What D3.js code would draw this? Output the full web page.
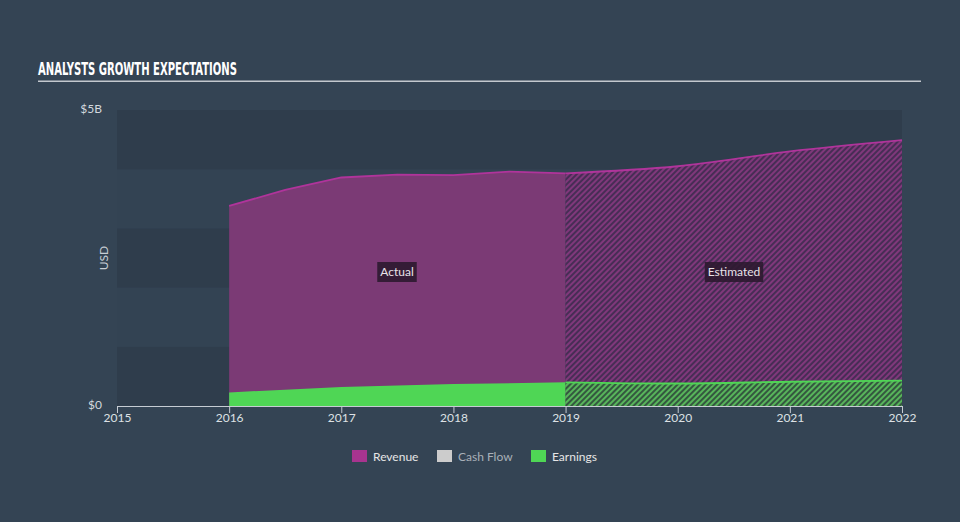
<!DOCTYPE html>
<html><head><meta charset="utf-8">
<script src="https://cdn.jsdelivr.net/npm/d3@7"></script>
<style>
html,body{margin:0;padding:0;background:#344454;}
svg{display:block;font-family:"Lato","Open Sans",sans-serif;}
</style></head>
<body><svg id="c" width="960" height="522"></svg>
<script>
// ---- data ----
const xTicks = [2015, 2016, 2017, 2018, 2019, 2020, 2021, 2022];
const yTickValues = [0, 5];
const yTickLabels = ["$0", "$5B"];
const revenueActualYears = [2016, 2016.5, 2017, 2017.5, 2018, 2018.5, 2019];
const revenueActual = [3.38, 3.65, 3.86, 3.91, 3.90, 3.96, 3.93];
const revenueEstYears = [2019, 2020, 2021, 2022];
const revenueEst = [3.93, 4.05, 4.30, 4.49];
const earningsActualYears = [2016, 2017, 2018, 2019];
const earningsActual = [0.23, 0.32, 0.37, 0.40];
const earningsEstYears = [2019, 2020, 2021, 2022];
const earningsEst = [0.40, 0.38, 0.41, 0.43];
const legendItems = ["Revenue", "Cash Flow", "Earnings"];
const legendColors = ["#a8348f", "#cccccc", "#4fd655"];
const legendTextColors = ["#e6e6e6", "#a9b0b8", "#e6e6e6"];

const svg = d3.select("#c");
const x = d3.scaleLinear().domain([2015, 2022]).range([117, 902]);
const y = d3.scaleLinear().domain([0, 5]).range([406, 110]);

// title
svg.append("text").attr("x", 38).attr("y", 75)
  .attr("fill", "#ffffff").attr("font-family", "'Liberation Sans Narrow','DejaVu Sans Condensed',sans-serif")
  .attr("font-weight", "bold").attr("font-size", 17).attr("textLength", 199).attr("lengthAdjust","spacingAndGlyphs")
  .text("ANALYSTS GROWTH EXPECTATIONS");
svg.append("rect").attr("x", 38).attr("y", 80.5).attr("width", 883).attr("height", 1.5).attr("fill", "#c3c8ce");

// bands
const bandVals = d3.range(0, 5);
svg.append("g").selectAll("rect").data(bandVals).join("rect")
  .attr("x", x(2015)).attr("width", x(2022) - x(2015))
  .attr("y", d => y(d + 1)).attr("height", d => y(d) - y(d + 1))
  .attr("fill", d => d % 2 === 0 ? "#2f3d4c" : "#334353");

// patterns
const defs = svg.append("defs");
function hatch(id, bg, fg) {
  const p = defs.append("pattern").attr("id", id).attr("patternUnits", "userSpaceOnUse")
    .attr("width", 4).attr("height", 4).attr("patternTransform", "rotate(45)");
  p.append("rect").attr("width", 4).attr("height", 4).attr("fill", bg);
  p.append("line").attr("x1", 1).attr("y1", 0).attr("x2", 1).attr("y2", 4)
    .attr("stroke", fg).attr("stroke-width", 1.8);
}
hatch("hRev", "#472d55", "#86397f");
hatch("hEarn", "#34573f", "#5cc05e");

const revA = revenueActualYears.map((t, i) => [t, revenueActual[i]]);
const revE = revenueEstYears.map((t, i) => [t, revenueEst[i]]);
const earnA = earningsActualYears.map((t, i) => [t, earningsActual[i]]);
const earnE = earningsEstYears.map((t, i) => [t, earningsEst[i]]);

const area = c => d3.area().x(d => x(d[0])).y0(y(0)).y1(d => y(d[1])).curve(c);
const line = c => d3.line().x(d => x(d[0])).y(d => y(d[1])).curve(c);

// revenue
svg.append("path").datum(revA).attr("d", area(d3.curveLinear)).attr("fill", "#7b3a75");
svg.append("path").datum(revE).attr("d", area(d3.curveMonotoneX)).attr("fill", "url(#hRev)");
svg.append("path").datum(revA).attr("d", line(d3.curveLinear)).attr("fill", "none").attr("stroke", "#b0349b").attr("stroke-width", 1.8);
svg.append("path").datum(revE).attr("d", line(d3.curveMonotoneX)).attr("fill", "none").attr("stroke", "#b0349b").attr("stroke-width", 1.8);

// earnings
svg.append("path").datum(earnA).attr("d", area(d3.curveLinear)).attr("fill", "#4fd655");
svg.append("path").datum(earnE).attr("d", area(d3.curveMonotoneX)).attr("fill", "url(#hEarn)");
svg.append("path").datum(earnE).attr("d", line(d3.curveMonotoneX)).attr("fill", "none").attr("stroke", "#4fd655").attr("stroke-width", 1.8);

// labels Actual / Estimated
function tag(cx, cy, txt) {
  const g = svg.append("g");
  const t = g.append("text").attr("x", cx).attr("y", cy + 4).attr("text-anchor", "middle")
    .attr("fill", "#e8e2e8").attr("font-size", 12).text(txt);
  const bb = t.node().getBBox();
  g.insert("rect", "text").attr("x", bb.x - 3).attr("y", cy - 10).attr("width", bb.width + 6).attr("height", 20)
    .attr("fill", "#2c1a30").attr("opacity", 0.9);
}
tag(397, 272, "Actual");
tag(734, 272, "Estimated");

// x axis
const xa = svg.append("g").attr("transform", `translate(0,${y(0)})`)
  .call(d3.axisBottom(x).tickValues(xTicks).tickFormat(d3.format("d")).tickSize(7).tickSizeOuter(0));
xa.select(".domain").attr("stroke", "#c6ccd3").attr("stroke-width", 1.2);
xa.selectAll(".tick line").attr("stroke", "#c6ccd3");
xa.selectAll(".tick text").attr("fill", "#dde1e5").attr("font-size", 12).attr("font-family", "'Lato','Open Sans',sans-serif").attr("dy", "0.5em");

// y labels
svg.append("g").selectAll("text").data(yTickValues).join("text")
  .attr("x", 102).attr("y", d => y(d) + 3).attr("text-anchor", "end")
  .attr("fill", "#d3d8dd").attr("font-size", 12).text((d, i) => yTickLabels[i]);
svg.append("text").attr("transform", "translate(108,258) rotate(-90)").attr("text-anchor", "middle")
  .attr("fill", "#c8ced4").attr("font-size", 12).text("USD");

// legend
const lg = svg.append("g");
const lx = [352, 437, 531];
legendItems.forEach((s, i) => {
  lg.append("rect").attr("x", lx[i]).attr("y", 450).attr("width", 15).attr("height", 12).attr("fill", legendColors[i]);
  lg.append("text").attr("x", lx[i] + 21).attr("y", 460.5).attr("fill", legendTextColors[i]).attr("font-size", 12).text(s);
});
</script></body></html>
